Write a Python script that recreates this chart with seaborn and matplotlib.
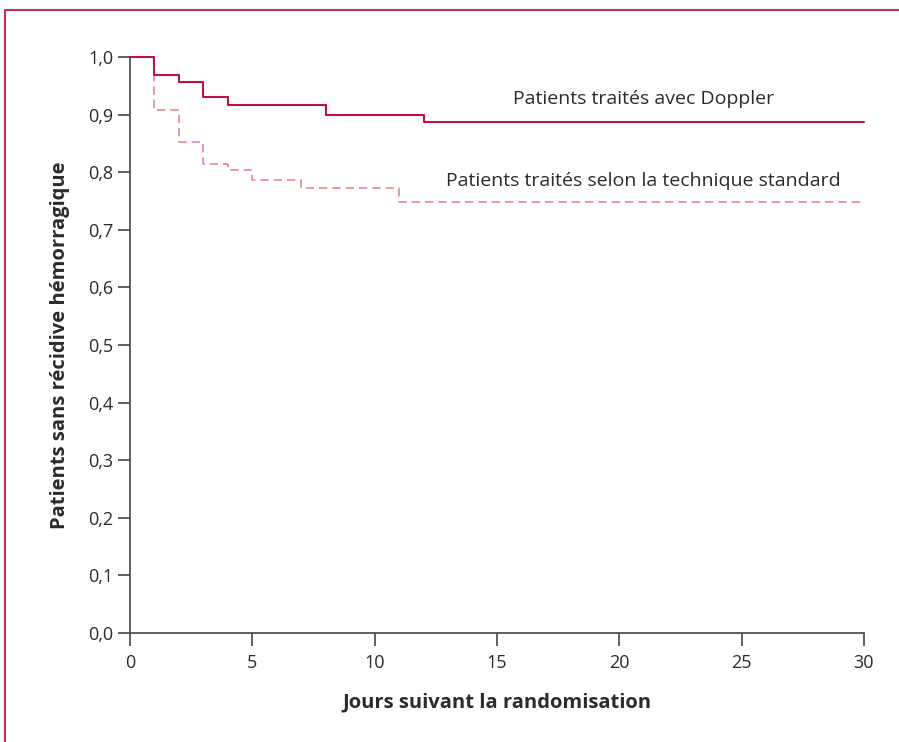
import matplotlib
matplotlib.use("Agg")
import matplotlib.pyplot as plt
import matplotlib.ticker as mticker
from matplotlib.lines import Line2D
import pandas as pd
import seaborn as sns

# Kaplan-Meier steps
doppler_days = [0, 1, 2, 3, 4, 8, 12, 30]
doppler_surv = [1.0, 0.969, 0.957, 0.930, 0.916, 0.900, 0.887, 0.887]
standard_days = [0, 1, 2, 3, 4, 5, 7, 11, 30]
standard_surv = [1.0, 0.908, 0.853, 0.814, 0.804, 0.786, 0.773, 0.748, 0.748]

x_ticks = [0, 5, 10, 15, 20, 25, 30]
y_ticks = [0.0, 0.1, 0.2, 0.3, 0.4, 0.5, 0.6, 0.7, 0.8, 0.9, 1.0]

doppler = pd.DataFrame({"jours": doppler_days, "survie": doppler_surv})
standard = pd.DataFrame({"jours": standard_days, "survie": standard_surv})

sns.set_style("white")
plt.rcParams["font.family"] = ["Open Sans", "DejaVu Sans"]

ink = "#2b2b2b"
crimson = "#c0103f"
salmon = "#e08a8a"

fig = plt.figure(figsize=(8.99, 7.42), dpi=100)
ax = fig.add_axes([130 / 899, 109 / 742, 734 / 899, 576 / 742])

sns.lineplot(data=standard, x="jours", y="survie", ax=ax, estimator=None, sort=False,
             drawstyle="steps-post", color=salmon, lw=1.2, dashes=False)
ax.lines[-1].set_dashes((5, 3))
sns.lineplot(data=doppler, x="jours", y="survie", ax=ax, estimator=None, sort=False,
             drawstyle="steps-post", color=crimson, lw=1.5)
for ln in ax.lines:
    ln.set_clip_on(False)

ax.set_xlim(0, 30)
ax.set_ylim(0, 1.0)
ax.set_xticks(x_ticks)
ax.set_yticks(y_ticks)
ax.yaxis.set_major_formatter(mticker.FuncFormatter(lambda v, p: f"{v:.1f}".replace(".", ",")))

for s in ["top", "right"]:
    ax.spines[s].set_visible(False)
for s in ["left", "bottom"]:
    ax.spines[s].set_color("#444444")
    ax.spines[s].set_linewidth(1.2)
ax.tick_params(axis="both", direction="out", length=9, width=1.2, color="#444444",
               labelsize=13, labelcolor=ink, left=True, bottom=True)
ax.tick_params(axis="x", pad=6)
ax.tick_params(axis="y", pad=3)

ax.set_xlabel("Jours suivant la randomisation", fontsize=14.5, fontweight="bold",
              color=ink, labelpad=15)
ax.set_ylabel("Patients sans récidive hémorragique", fontsize=14.5, fontweight="bold",
              color=ink, labelpad=13)

ax.text(21.0, 0.927, "Patients traités avec Doppler", fontsize=14, color=ink,
        ha="center", va="center")
ax.text(21.0, 0.785, "Patients traités selon la technique standard", fontsize=14,
        color=ink, ha="center", va="center")

# decorative frame (top and left)
fig.add_artist(Line2D([5 / 899, 1], [1 - 10 / 742, 1 - 10 / 742],
                      transform=fig.transFigure, color="#c4305a", lw=1.5))
fig.add_artist(Line2D([5 / 899, 5 / 899], [0, 1 - 10 / 742],
                      transform=fig.transFigure, color="#c4305a", lw=1.5))

fig.savefig("out.png", dpi=100)
